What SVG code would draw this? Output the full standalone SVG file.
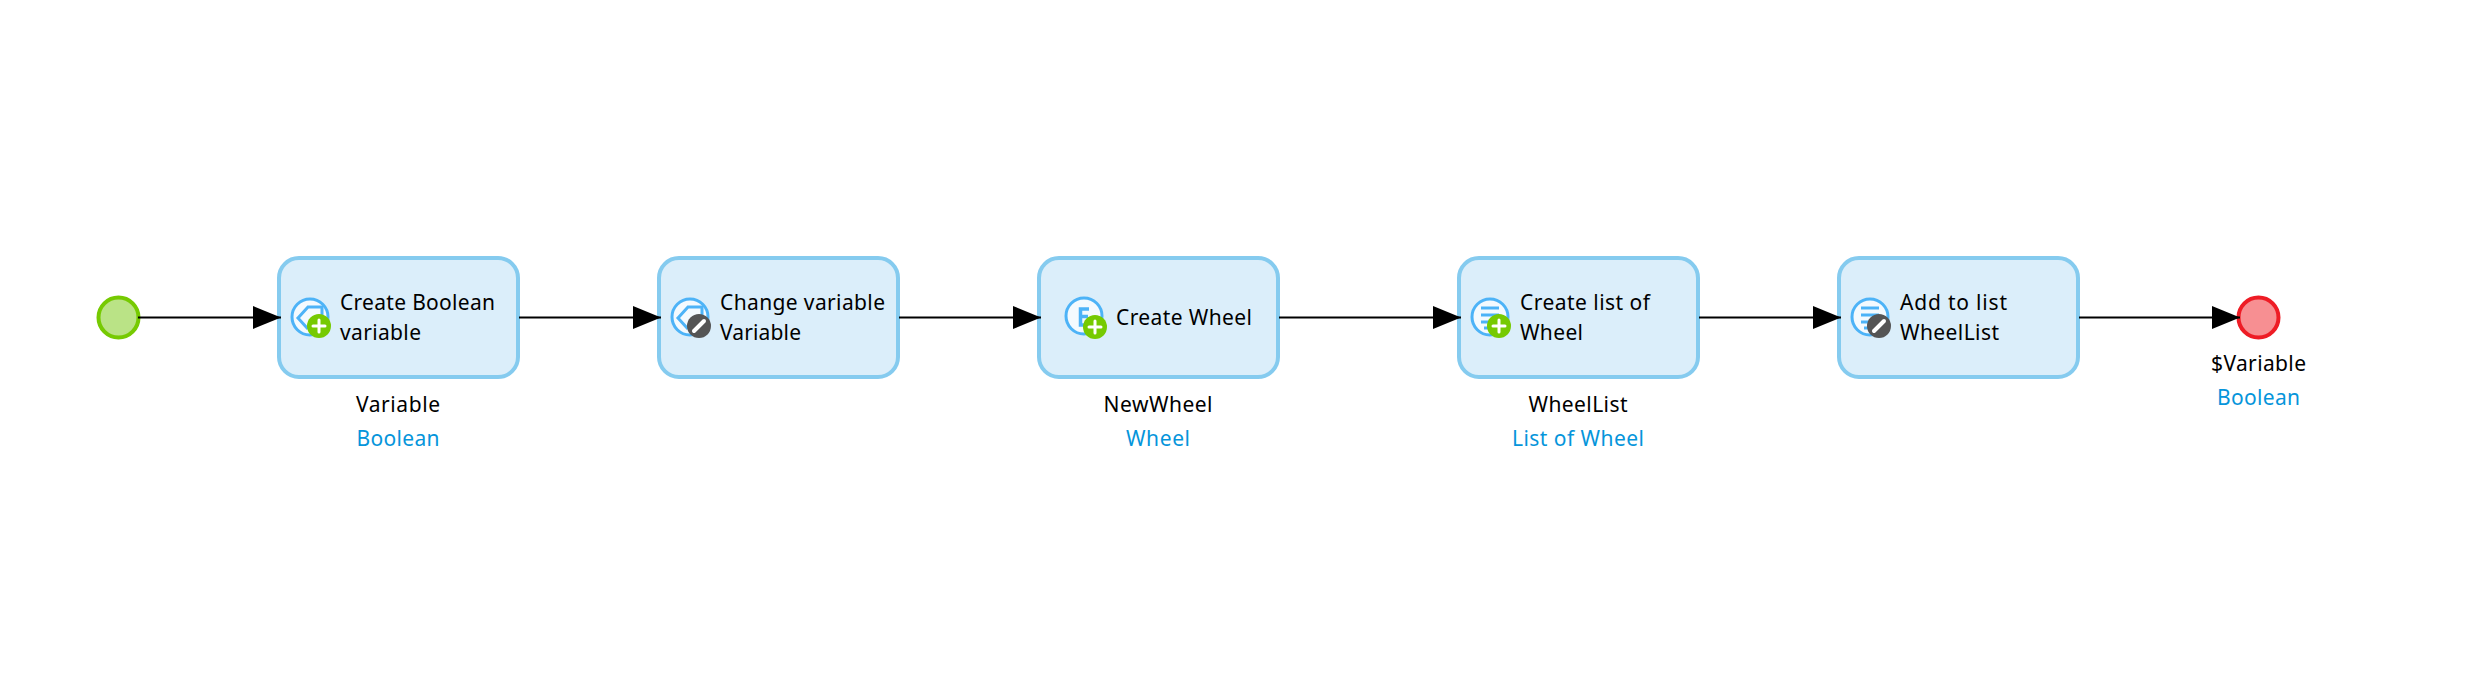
<svg xmlns="http://www.w3.org/2000/svg" width="2486" height="688" viewBox="0 0 2486 688">
<style>
text{font-family:"Noto Sans","Open Sans","Liberation Sans",sans-serif;font-size:21px;fill:#000}
.m{text-anchor:middle}
.t{fill:#0595DB}
.b{fill:#DBEEFA;stroke:#85CBEF;stroke-width:4}
.ic{fill:#F4FAFE;stroke:#4DB3F7;stroke-width:3}
.gl{fill:none;stroke:#4DB3F7;stroke-width:3}
.add{fill:#76CA02}.ed{fill:#555}
.w{fill:none;stroke:#fff;stroke-width:3;stroke-linecap:round}
.w4{stroke-width:4}
.c{fill:none;stroke:#000;stroke-width:2;marker-end:url(#a)}
</style>
<defs>
<marker id="a" markerUnits="userSpaceOnUse" markerWidth="28" markerHeight="24" refX="28" refY="12" orient="auto"><path d="M0 0.500L28 12L0 23.500Z" fill="#000"/></marker>
<g id="var"><circle class="ic" r="18"/><path class="gl" d="M12-2V-10H-2L-12 1L-2 12"/></g>
<g id="list"><circle class="ic" r="18"/><path class="gl" d="M-9-9H9M-9-2H9M-9 5H9M-6 11H4"/></g>
<g id="plus"><circle class="add" r="12"/><path class="w" d="M-6 0H6M0-6V6"/></g>
<g id="edit"><circle class="ed" r="12"/><path class="w w4" d="M-5 5L5-5"/></g>
</defs>
<g id="start"><circle cx="118.500" cy="317.500" r="20" fill="#BAE386" stroke="#76CA02" stroke-width="4"/></g>
<g id="n1"><rect class="b" x="279" y="258" width="239" height="119" rx="20"/>
<use href="#var" x="310" y="317"/><use href="#plus" x="319" y="326"/>
<text x="340" y="310" textLength="155">Create Boolean</text><text x="340" y="340" textLength="81">variable</text>
<text class="m" x="398" y="411.500" textLength="84">Variable</text><text class="m t" x="398" y="446" textLength="83">Boolean</text></g>
<g id="n2"><rect class="b" x="659" y="258" width="239" height="119" rx="20"/>
<use href="#var" x="690" y="317"/><use href="#edit" x="699" y="326"/>
<text x="720" y="310" textLength="165">Change variable</text><text x="720" y="340" textLength="81">Variable</text></g>
<g id="n3"><rect class="b" x="1039" y="258" width="239" height="119" rx="20"/>
<circle class="ic" cx="1084" cy="316" r="18"/><path class="gl" style="stroke-width:3.500" d="M1089 309H1080.500V325H1089M1080.500 316.500H1088"/><use href="#plus" x="1095" y="327"/>
<text x="1116" y="325" textLength="136">Create Wheel</text>
<text class="m" x="1158" y="411.500" textLength="109">NewWheel</text><text class="m t" x="1158" y="446" textLength="64">Wheel</text></g>
<g id="n4"><rect class="b" x="1459" y="258" width="239" height="119" rx="20"/>
<use href="#list" x="1490" y="317"/><use href="#plus" x="1499" y="326"/>
<text x="1520" y="310" textLength="130">Create list of</text><text x="1520" y="340" textLength="63">Wheel</text>
<text class="m" x="1578" y="411.500" textLength="99">WheelList</text><text class="m t" x="1578" y="446" textLength="132">List of Wheel</text></g>
<g id="n5"><rect class="b" x="1839" y="258" width="239" height="119" rx="20"/>
<use href="#list" x="1870" y="317"/><use href="#edit" x="1879" y="326"/>
<text x="1900" y="310" textLength="107">Add to list</text><text x="1900" y="340" textLength="99">WheelList</text></g>
<g id="end"><circle cx="2258.500" cy="317.500" r="20" fill="#F78F92" stroke="#EE1C25" stroke-width="4"/>
<text class="m" x="2258.500" y="371" textLength="95">$Variable</text><text class="m t" x="2258.500" y="405" textLength="83">Boolean</text></g>
<g id="connectors">
<path class="c" d="M138 317.500H281"/>
<path class="c" d="M519 317.500H661"/>
<path class="c" d="M899 317.500H1041"/>
<path class="c" d="M1279 317.500H1461"/>
<path class="c" d="M1699 317.500H1841"/>
<path class="c" d="M2079 317.500H2240"/>
</g>
</svg>
